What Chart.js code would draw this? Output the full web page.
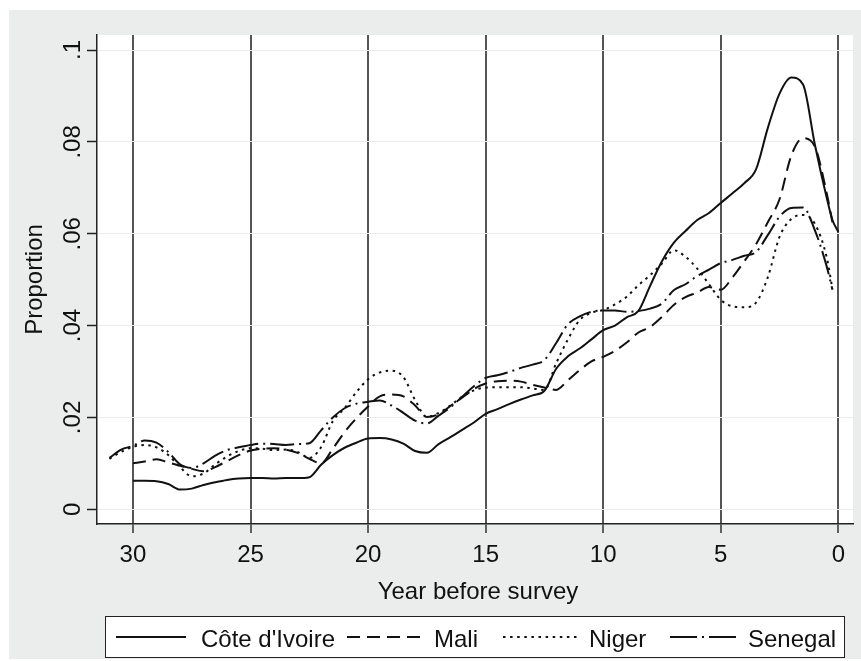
<!DOCTYPE html>
<html>
<head>
<meta charset="utf-8">
<script src="https://cdn.jsdelivr.net/npm/chart.js@4.4.1/dist/chart.umd.min.js"></script>
<style>
  html, body { margin: 0; padding: 0; background: #ffffff; }
  #wrap { width: 861px; height: 661px; position: relative; }
</style>
</head>
<body>
<div id="wrap"><canvas id="c" width="861" height="661"></canvas></div>
<script>
// ---------------- data ----------------
const years = [31,30.5,30,29.5,29,28.5,28,27.5,27,26.5,26,25.5,25,24.5,24,23.5,23,22.5,22,21.5,21,20.5,20,19.5,19,18.5,18,17.5,17,16.5,16,15.5,15,14.5,14,13.5,13,12.5,12,11.5,11,10.5,10,9.5,9,8.5,8,7.5,7,6.5,6,5.5,5,4.5,4,3.5,3,2.5,2,1.5,1,0.5,0.25,0];

const coteDIvoire = [null,null,.0062,.0062,.0061,.0055,.0043,.0045,.0053,.0059,.0064,.0067,.0068,.0068,.0067,.0068,.0068,.0070,.0097,.0118,.0134,.0145,.0154,.0155,.0152,.0143,.0127,.0123,.0142,.0157,.0173,.0189,.0208,.0218,.0229,.0239,.0248,.0258,.0306,.0333,.0350,.0370,.0390,.0400,.0418,.0432,.0487,.0540,.0580,.0606,.0630,.0645,.0667,.0688,.0710,.0740,.0830,.0905,.0940,.0925,.0795,.0680,.0630,.0604];

const mali = [null,null,.0100,.0104,.0109,.0102,.0095,.0088,.0083,.0092,.0105,.0118,.0128,.0132,.0133,.0130,.0123,.0110,.0100,.0132,.0168,.0198,.0224,.0246,.0250,.0246,.0226,.0201,.0207,.0225,.0243,.0262,.0274,.0279,.0280,.0278,.0271,.0265,.0260,.0281,.0303,.0322,.0332,.0345,.0363,.0385,.0397,.0419,.0445,.0462,.0472,.0484,.0478,.0505,.0540,.0577,.0625,.0675,.0770,.0808,.0790,.0690,.0625,null];

const niger = [.0110,.0125,.0136,.0140,.0135,.0118,.0092,.0072,.0078,.0098,.0115,.0127,.0133,.0132,.0129,.0130,.0125,.0112,.0135,.0192,.0220,.0255,.0283,.0298,.0302,.0288,.0238,.0201,.0210,.0226,.0245,.0259,.0265,.0266,.0266,.0266,.0263,.0260,.0318,.0370,.0412,.0428,.0434,.0446,.0463,.0488,.0510,.0535,.0564,.0550,.0524,.0490,.0456,.0442,.0440,.0450,.0505,.0593,.0632,.0641,.0622,.0550,.0480,null];

const senegal = [.0112,.0130,.0138,.0150,.0145,.0125,.0098,.0090,.0100,.0117,.0129,.0135,.0140,.0143,.0142,.0140,.0142,.0144,.0172,.0200,.0220,.0230,.0234,.0237,.0226,.0210,.0193,.0187,.0204,.0222,.0245,.0268,.0286,.0292,.0299,.0308,.0315,.0325,.0362,.0403,.0420,.0430,.0433,.0433,.0430,.0432,.0437,.0448,.0477,.0490,.0508,.0522,.0536,.0543,.0552,.0560,.0597,.0637,.0656,.0657,.0608,.0530,.0478,null];

const seriesNames = ["Côte d'Ivoire", "Mali", "Niger", "Senegal"];
const xTicks = [30, 25, 20, 15, 10, 5, 0];
const xTickLabels = ["30", "25", "20", "15", "10", "5", "0"];
const yTicks = [0, 0.02, 0.04, 0.06, 0.08, 0.1];
const yTickLabels = ["0", ".02", ".04", ".06", ".08", ".1"];
const xTitle = "Year before survey";
const yTitle = "Proportion";

// ---------------- styles ----------------
const FONT = '24px "Liberation Sans", Arial, Helvetica, sans-serif';
const TXT = '#111111';
const dashes = [[], [13, 7], [2.5, 4.5], [24, 5, 2, 5]];
const legendDashes = [[], [13, 7], [2.5, 4.6], [27, 5, 2, 5]];
const legendLines = [[116, 186], [347, 420], [503, 577], [670, 736]];
const legendTextX = [201, 434, 589, 748];

function pts(vals) {
  return years.map((x, i) => ({ x: x, y: vals[i] }));
}

const allSeries = [coteDIvoire, mali, niger, senegal];
const datasets = allSeries.map((vals, i) => ({
  label: seriesNames[i],
  data: pts(vals),
  borderColor: '#111111',
  borderWidth: 2,
  borderDash: dashes[i],
  borderCapStyle: 'butt',
  pointRadius: 0,
  fill: false,
  cubicInterpolationMode: 'monotone',
  spanGaps: false
}));

const decor = {
  id: 'decor',
  beforeDraw(chart) {
    const { ctx, chartArea: a } = chart;
    ctx.save();
    ctx.fillStyle = '#ffffff';
    ctx.fillRect(0, 0, chart.width, chart.height);
    ctx.fillStyle = '#ebecec';
    ctx.fillRect(9, 10, chart.width - 9, 649);
    ctx.fillStyle = '#ffffff';
    ctx.fillRect(a.left, a.top, a.right - a.left, a.bottom - a.top);
    ctx.restore();
  },
  afterDraw(chart) {
    const { ctx, chartArea: a } = chart;
    const xs = chart.scales.x, ys = chart.scales.y;
    ctx.save();
    ctx.font = FONT;
    ctx.fillStyle = TXT;
    ctx.textBaseline = 'alphabetic';
    // x tick labels
    ctx.textAlign = 'center';
    xTicks.forEach((v, i) => {
      ctx.fillText(xTickLabels[i], xs.getPixelForValue(v), 562);
    });
    // x title
    ctx.fillText(xTitle, 478, 599);
    // y tick labels (rotated)
    yTicks.forEach((v, i) => {
      ctx.save();
      ctx.translate(80, ys.getPixelForValue(v));
      ctx.rotate(-Math.PI / 2);
      ctx.fillText(yTickLabels[i], 0, 0);
      ctx.restore();
    });
    // y title
    ctx.save();
    ctx.translate(42, (a.top + a.bottom) / 2);
    ctx.rotate(-Math.PI / 2);
    ctx.fillText(yTitle, 0, 0);
    ctx.restore();
    // legend
    ctx.fillStyle = '#ffffff';
    ctx.fillRect(105, 616, 739, 41);
    ctx.strokeStyle = '#222222';
    ctx.lineWidth = 1;
    ctx.strokeRect(105.5, 616.5, 739, 41);
    ctx.fillStyle = TXT;
    ctx.textAlign = 'left';
    seriesNames.forEach((name, i) => {
      ctx.save();
      ctx.strokeStyle = '#111111';
      ctx.lineWidth = 2;
      ctx.lineCap = 'butt';
      ctx.setLineDash(legendDashes[i]);
      ctx.beginPath();
      ctx.moveTo(legendLines[i][0], 637);
      ctx.lineTo(legendLines[i][1], 637);
      ctx.stroke();
      ctx.restore();
      ctx.fillText(name, legendTextX[i], 647);
    });
    ctx.restore();
  }
};

new Chart(document.getElementById('c'), {
  type: 'line',
  data: { datasets: datasets },
  options: {
    responsive: false,
    animation: false,
    events: [],
    layout: { padding: { left: 0, top: 35, right: 8, bottom: 0 } },
    plugins: { legend: { display: false }, tooltip: { enabled: false }, title: { display: false } },
    scales: {
      x: {
        type: 'linear',
        reverse: true,
        min: -0.625,
        max: 31.53,
        afterBuildTicks: s => { s.ticks = xTicks.map(v => ({ value: v })); },
        afterFit: s => { s.height = 137; },
        ticks: { display: false },
        grid: { color: '#555555', lineWidth: 2, tickLength: 9, tickColor: '#333333', tickWidth: 1.5 },
        border: { display: true, color: '#222222', width: 1.5 }
      },
      y: {
        type: 'linear',
        min: -0.0032,
        max: 0.10327,
        afterBuildTicks: s => { s.ticks = yTicks.map(v => ({ value: v })); },
        afterFit: s => { s.width = 97; },
        ticks: { display: false },
        grid: { color: '#ececec', lineWidth: 1, tickLength: 10, tickColor: '#222222', tickWidth: 1.5 },
        border: { display: true, color: '#222222', width: 1.5 }
      }
    }
  },
  plugins: [decor]
});
</script>
</body>
</html>
